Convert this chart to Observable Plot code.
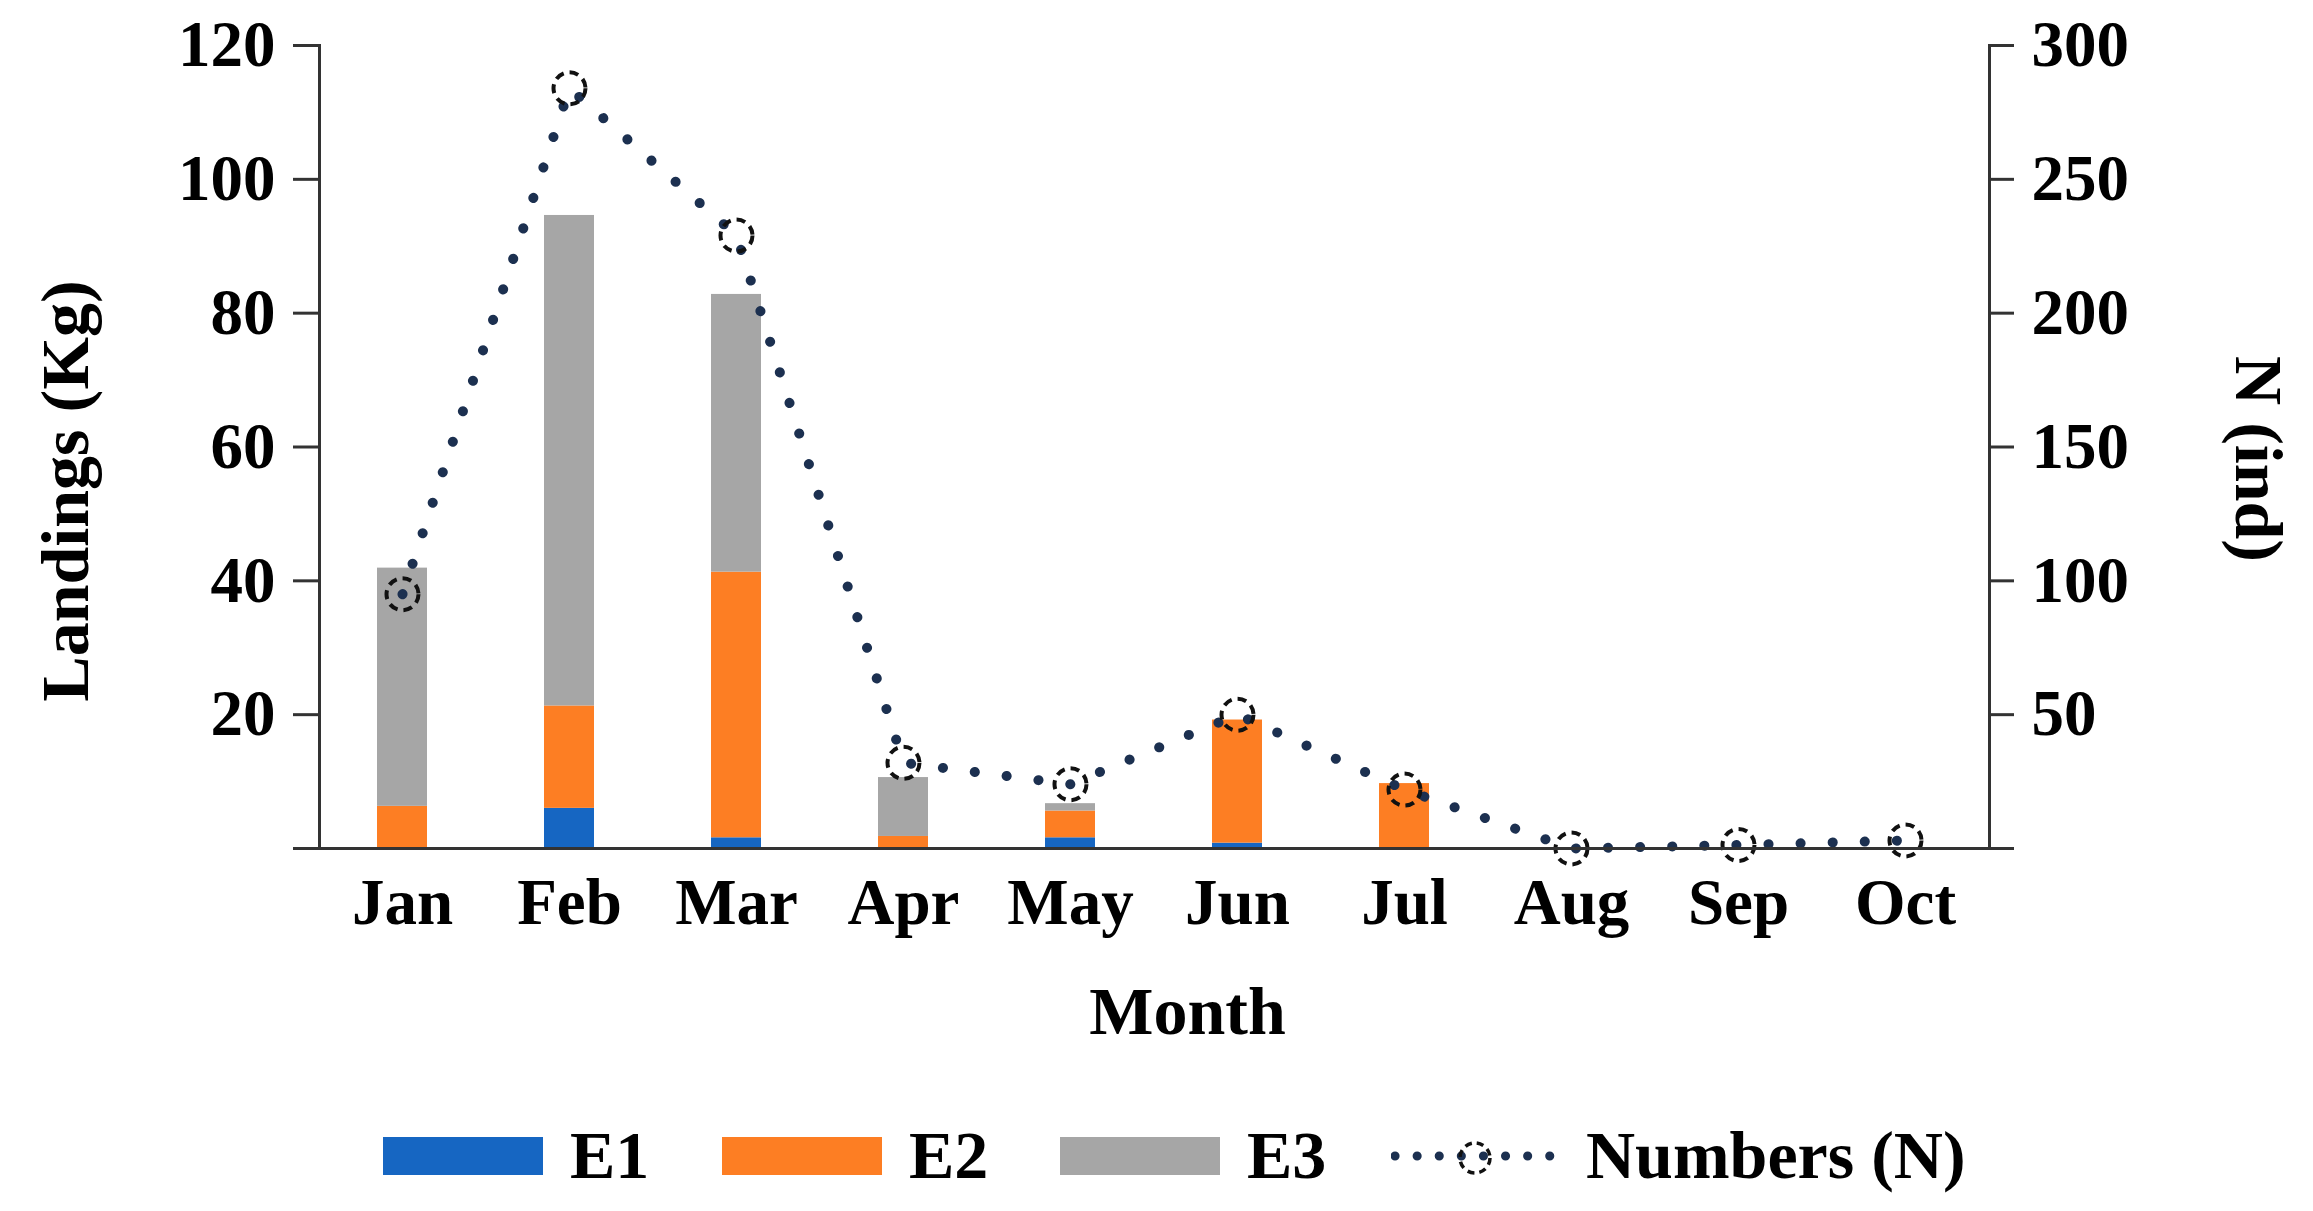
<!DOCTYPE html>
<html><head><meta charset="utf-8">
<script src="https://cdn.jsdelivr.net/npm/d3@7"></script>
<script src="https://cdn.jsdelivr.net/npm/@observablehq/plot@0.6"></script>
<style>
html,body{margin:0;padding:0;background:#fff;}
#chart{position:relative;width:2313px;height:1211px;font-family:"Liberation Serif",serif;font-weight:bold;color:#000;}
#legend{position:absolute;left:0;top:1100px;width:2313px;height:111px;}
.item{position:absolute;top:0;height:111px;display:flex;align-items:center;font-size:68px;}
.sw{width:160px;height:38px;margin-right:27px;}
.sym{margin-right:27px;}
</style></head><body><div id="chart"></div>
<script>
const months = ["Jan","Feb","Mar","Apr","May","Jun","Jul","Aug","Sep","Oct"];
const seriesNames = ["E1","E2","E3"];
const e1 = [0, 6.0, 1.6, 0, 1.6, 0.8, 0, 0, 0, 0];
const e2 = [6.3, 15.3, 39.7, 1.8, 4.0, 18.4, 9.7, 0, 0, 0];
const e3 = [35.6, 73.3, 41.5, 8.8, 1.1, 0, 0, 0, 0, 0];
const numbers = [95, 284, 229, 32, 24, 50, 22, 0, 1.3, 3];
const colors = ["#1666c2", "#fd7e23", "#a6a6a6"];
const leftTicks = [0, 20, 40, 60, 80, 100, 120];
const rightTicks = [0, 50, 100, 150, 200, 250, 300];
const lineName = "Numbers (N)";
const ratio = 120 / 300;

const rows = [];
months.forEach((m, i) => [e1, e2, e3].forEach((s, j) => rows.push({month: m, series: seriesNames[j], kg: s[i]})));
const pts = months.map((m, i) => ({month: m, n: numbers[i]}));
const lineColor = "#1c3050";
const axisColor = "#333";

const plot = Plot.plot({
  width: 2313, height: 1100,
  marginLeft: 319, marginRight: 324, marginTop: 45, marginBottom: 252,
  style: {fontFamily: '"Liberation Serif", serif', fontWeight: "bold", fontSize: "65px", color: "#000", background: "#fff", overflow: "visible"},
  x: {domain: months, paddingInner: 0.7, paddingOuter: 0.35, label: null},
  y: {domain: [0, 120], label: null},
  color: {domain: seriesNames, range: colors},
  marks: [
    Plot.barY(rows, {x: "month", y: "kg", fill: "series"}),
    Plot.line(pts, {x: "month", y: d => d.n * ratio, stroke: lineColor, strokeWidth: 10, strokeDasharray: "0.1 32", strokeLinecap: "round"}),
    Plot.dot(pts, {x: "month", y: d => d.n * ratio, r: 16, stroke: "#111", strokeWidth: 4, strokeDasharray: "9 6", fill: "none"}),
    Plot.ruleY([0], {stroke: axisColor, strokeWidth: 3}),
    Plot.frame({anchor: "left", stroke: axisColor, strokeWidth: 3}),
    Plot.frame({anchor: "right", stroke: axisColor, strokeWidth: 3}),
    Plot.axisY({anchor: "left", ticks: leftTicks, tickSize: 26, tickPadding: 18, tickFormat: d => d === 0 ? "" : String(d), label: null, stroke: axisColor, strokeWidth: 3}),
    Plot.axisY({anchor: "right", ticks: rightTicks.map(v => v * ratio), tickSize: 24, tickPadding: 18, tickFormat: d => d === 0 ? "" : String(Math.round(d / ratio)), label: null, stroke: axisColor, strokeWidth: 3}),
    Plot.axisX({tickSize: 0, tickPadding: 29, label: null}),
    Plot.text(["Landings (Kg)"], {text: d => d, frameAnchor: "left", textAnchor: "middle", rotate: -90, dx: -253, dy: 44, fontSize: 68}),
    Plot.text(["N (ind)"], {text: d => d, frameAnchor: "right", textAnchor: "middle", rotate: 90, dx: 268, dy: 12, fontSize: 68}),
    Plot.text(["Month"], {text: d => d, frameAnchor: "bottom", dx: 33, dy: 185, fontSize: 68})
  ]
});
const chart = document.getElementById("chart");
chart.appendChild(plot);

const legend = document.createElement("div");
legend.id = "legend";
const lefts = [383, 722, 1060];
seriesNames.forEach((s, i) => {
  const it = document.createElement("div");
  it.className = "item";
  it.style.left = lefts[i] + "px";
  it.innerHTML = `<div class="sw" style="background:${colors[i]}"></div><span>${s}</span>`;
  legend.appendChild(it);
});
const it = document.createElement("div");
it.className = "item";
it.style.left = "1391px";
it.innerHTML = `<svg class="sym" width="168" height="50" viewBox="0 0 168 50"><line x1="4" y1="25" x2="164" y2="25" stroke="${lineColor}" stroke-width="9" stroke-linecap="round" stroke-dasharray="0.1 22"></line><circle cx="84" cy="27" r="15" fill="none" stroke="#111" stroke-width="3.5" stroke-dasharray="7 5"></circle></svg><span>${lineName}</span>`;
legend.appendChild(it);
chart.appendChild(legend);
</script></body></html>
